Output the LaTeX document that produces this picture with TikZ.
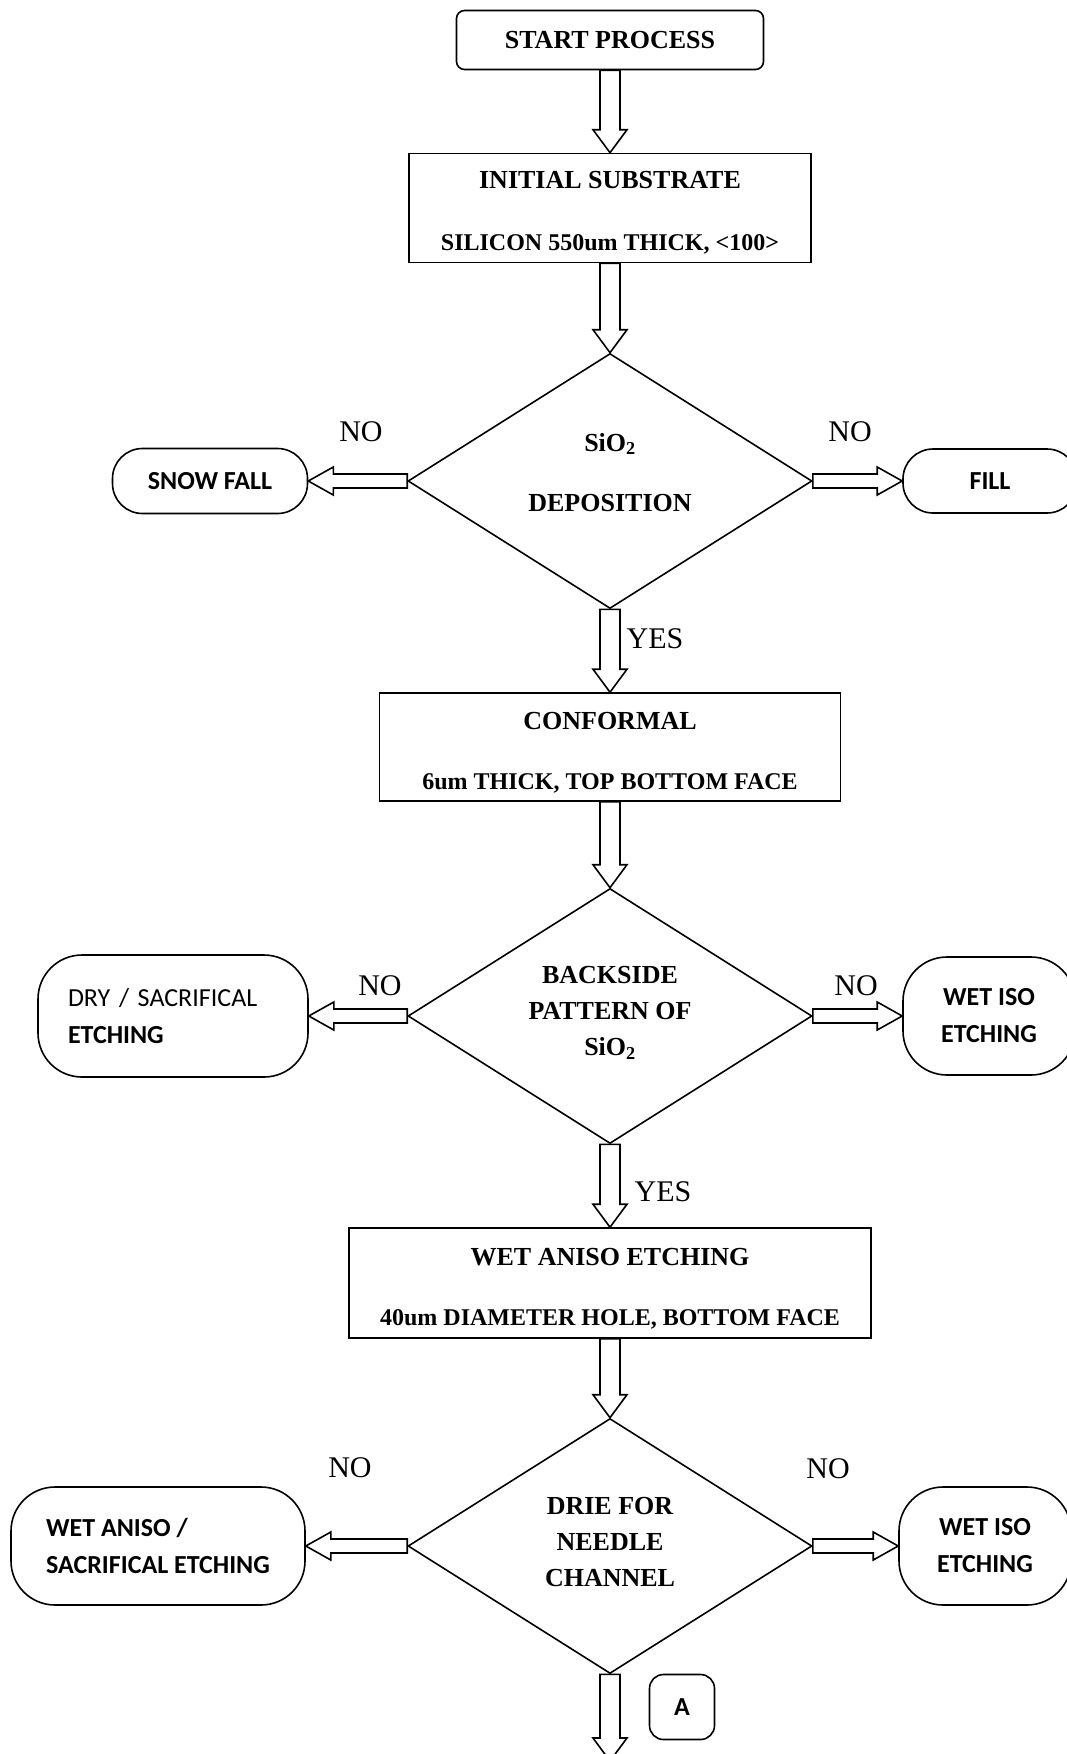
\documentclass[tikz,border=0pt]{standalone}
\usepackage{fontspec}
\setmainfont{Liberation Serif}
\newfontfamily\calib{Carlito}
\usetikzlibrary{shapes.geometric}
\usetikzlibrary{calc}
\usetikzlibrary{positioning}

\begin{document}
\begin{tikzpicture}[x=1pt,y=-1pt,line width=1.6pt,
	procbox/.style={draw,rectangle,align=center,inner sep=0pt,font=\fontsize{26}{31}\selectfont\bfseries},
	twoline/.style={text height=89pt},
	decide/.style={draw,diamond,aspect=1.58,inner sep=0pt,align=center,minimum width=404pt,minimum height=255pt,font=\fontsize{26}{36}\selectfont\bfseries},
	exitbox/.style={draw,rectangle,rounded corners=30pt,inner sep=0pt,font=\fontsize{26}{37}\selectfont\calib\bfseries},
	tallexit/.style={exitbox,rounded corners=44pt},
	yesno/.style={font=\fontsize{30}{36}\selectfont},
	fat/.style n args={3}{to path={
		($(\tikztostart)!#1!90:(\tikztotarget)$)
		-- ($(\tikztotarget)!#3!(\tikztostart)!#1!-90:(\tikztostart)$)
		-- ($(\tikztotarget)!#3!(\tikztostart)!#2!-90:(\tikztostart)$)
		-- (\tikztotarget)
		-- ($(\tikztotarget)!#3!(\tikztostart)!#2!90:(\tikztostart)$)
		-- ($(\tikztotarget)!#3!(\tikztostart)!#1!90:(\tikztostart)$)
		-- ($(\tikztostart)!#1!-90:(\tikztotarget)$)
		-- cycle}},
	vflow/.style={fat={10pt}{17pt}{23pt}},
	hflow/.style={fat={7pt}{14pt}{25pt}}]
	\useasboundingbox (0,0) rectangle (1067,1754);
	\clip (0,0) rectangle (1067,1754);

	% main chain
	\node[procbox,rounded corners=8pt,minimum width=307pt,minimum height=59pt] (start) at (610,40) {START PROCESS};
	\node[procbox,twoline,minimum width=402pt,minimum height=109pt] (init) at (610,208)
		{INITIAL SUBSTRATE\\[31pt]{\fontsize{24}{29}\selectfont SILICON 550um THICK, <100>}};
	\node[decide,text depth=18pt] (d1) at (610,481) {SiO\textsubscript{2}\\[24pt]DEPOSITION};
	\node[procbox,twoline,minimum width=461pt,minimum height=108pt] (conf) at (610,747)
		{CONFORMAL\\[29pt]{\fontsize{24}{29}\selectfont 6um THICK, TOP BOTTOM FACE}};
	\node[decide,text depth=10pt] (d2) at (610,1016) {BACKSIDE\\PATTERN OF\\SiO\textsubscript{2}};
	\node[procbox,twoline,minimum width=522pt,minimum height=110pt] (wetan) at (610,1283)
		{WET ANISO ETCHING\\[29pt]{\fontsize{24}{29}\selectfont 40um DIAMETER HOLE, BOTTOM FACE}};
	\node[decide,text depth=9pt] (d3) at (610,1546) {DRIE FOR\\NEEDLE\\CHANNEL};
	\coordinate (cont) at (610,1761);

	% exits of the decisions
	\node[exitbox,minimum width=195pt,minimum height=65pt] (snow) at (210,481) {SNOW FALL};
	\node[exitbox,minimum width=174pt,minimum height=64pt] (fill) at (990,481) {FILL};
	\node[tallexit,align=left,text width=210pt,minimum width=270pt,minimum height=122pt] (dry) at (173,1016)
		{{\mdseries DRY / SACRIFICAL}\\ETCHING};
	\node[tallexit,align=center,minimum width=172pt,minimum height=118pt] (iso1) at (989,1016) {WET ISO\\ETCHING};
	\node[tallexit,align=left,minimum width=294pt,minimum height=118pt] (anso) at (158,1546)
		{WET ANISO /\\SACRIFICAL ETCHING};
	\node[tallexit,align=center,minimum width=172pt,minimum height=118pt] (iso2) at (985,1546) {WET ISO\\ETCHING};
	\node[exitbox,rounded corners=14pt,minimum width=65pt,minimum height=65pt] (pageA) at (682,1707) {A};

	% labels
	\node[yesno] at (361,432) {NO};
	\node[yesno] at (850,432) {NO};
	\node[yesno] at (655,639) {YES};
	\node[yesno] at (380,986) {NO};
	\node[yesno] at (856,986) {NO};
	\node[yesno] at (663,1192) {YES};
	\node[yesno] at (350,1468) {NO};
	\node[yesno] at (828,1469) {NO};

	% block arrows
	\draw[vflow] (start.south) to (init.north);
	\draw[vflow] (init.south) to (d1.north);
	\draw[hflow] (d1.west) to (snow.east);
	\draw[hflow] (d1.east) to (fill.west);
	\draw[vflow] (d1.south) to (conf.north);
	\draw[vflow] (conf.south) to (d2.north);
	\draw[hflow] (d2.west) to (dry.east);
	\draw[hflow] (d2.east) to (iso1.west);
	\draw[vflow] (d2.south) to (wetan.north);
	\draw[vflow] (wetan.south) to (d3.north);
	\draw[hflow] (d3.west) to (anso.east);
	\draw[hflow] (d3.east) to (iso2.west);
	\draw[vflow] (d3.south) to (cont);
\end{tikzpicture}
\end{document}
